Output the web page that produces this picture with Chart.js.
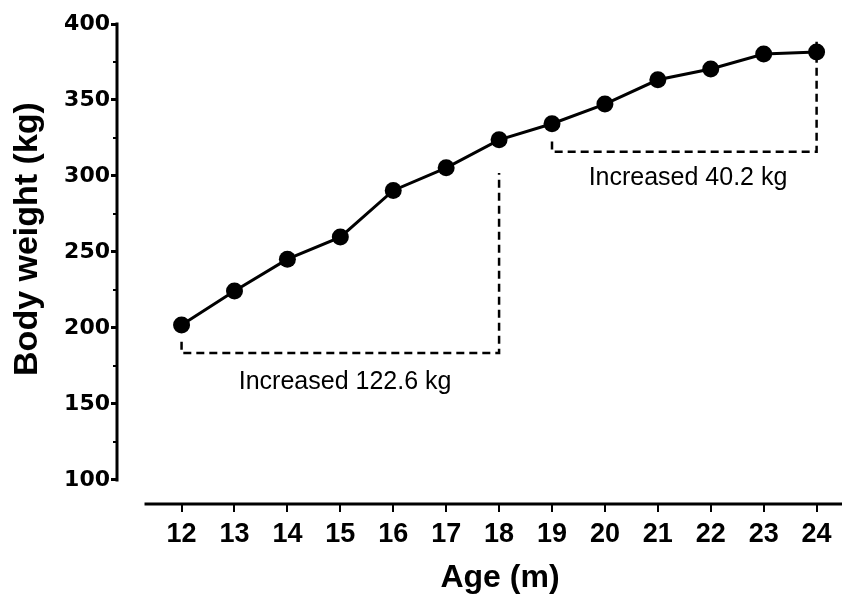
<!DOCTYPE html>
<html>
<head>
<meta charset="utf-8">
<script src="https://cdn.jsdelivr.net/npm/chart.js@4/dist/chart.umd.min.js"></script>
<style>
  html, body { margin: 0; padding: 0; background: #fff; }
  #wrap { width: 842px; height: 597px; }
</style>
</head>
<body>
<div id="wrap"><canvas id="weightChart" width="842" height="597"></canvas></div>
<script>
// age in months and mean body weight (kg)
const ages = [12, 13, 14, 15, 16, 17, 18, 19, 20, 21, 22, 23, 24];
const weights = [202.0, 224.4, 245.3, 259.8, 290.5, 305.4, 323.8, 334.4, 347.3, 363.3, 370.4, 380.2, 381.6];

const yTicks = [100, 150, 200, 250, 300, 350, 400];
const yMinorTicks = [125, 175, 225, 275, 325, 375];

// dashed brackets marking the two gains
const gainA = [[12, 191], [12, 183.6], [18, 183.6], [18, 302]];
const gainB = [[19, 322.7], [19, 315.9], [24, 315.9], [24, 388.5]];

const notes = [
  { text: 'Increased 122.6 kg', x: 15.09, y: 164.5 },
  { text: 'Increased 40.2 kg', x: 21.57, y: 298.8 }
];

const toPoints = arr => arr.map(p => ({ x: p[0], y: p[1] }));

const axisPlugin = {
  id: 'axisPlugin',
  afterDraw(chart) {
    const ctx = chart.ctx;
    const xs = chart.scales.x;
    const ys = chart.scales.y;
    const area = chart.chartArea;
    ctx.save();
    ctx.strokeStyle = '#000';
    ctx.lineCap = 'butt';

    // y spine (only between 100 and 400)
    ctx.lineWidth = 3;
    ctx.beginPath();
    ctx.moveTo(area.left, ys.getPixelForValue(yTicks[0]) + 1.5);
    ctx.lineTo(area.left, ys.getPixelForValue(yTicks[yTicks.length - 1]) - 1.5);
    ctx.stroke();

    // minor y ticks
    ctx.lineWidth = 2;
    yMinorTicks.forEach(v => {
      const py = ys.getPixelForValue(v);
      ctx.beginPath();
      ctx.moveTo(area.left - 4, py);
      ctx.lineTo(area.left, py);
      ctx.stroke();
    });

    // x spine, detached from the y axis
    ctx.lineWidth = 3;
    ctx.beginPath();
    ctx.moveTo(xs.getPixelForValue(11.3), area.bottom);
    ctx.lineTo(area.right, area.bottom);
    ctx.stroke();

    // annotations
    ctx.fillStyle = '#000';
    ctx.font = '25px "Liberation Sans", Arial, sans-serif';
    ctx.textAlign = 'center';
    ctx.textBaseline = 'middle';
    notes.forEach(n => {
      ctx.fillText(n.text, xs.getPixelForValue(n.x), ys.getPixelForValue(n.y));
    });

    // axis titles
    ctx.font = 'bold 32px "Liberation Sans", Arial, sans-serif';
    ctx.fillText('Age (m)', 500, 578);
    ctx.translate(28, 239);
    ctx.rotate(-Math.PI / 2);
    ctx.font = 'bold 34px "Liberation Sans", Arial, sans-serif';
    ctx.fillText('Body weight (kg)', 0, 0);
    ctx.restore();
  }
};

const ctx = document.getElementById('weightChart').getContext('2d');
const weightChart = new Chart(ctx, {
  type: 'line',
  data: {
    datasets: [
      {
        label: 'Body weight',
        data: ages.map((a, i) => ({ x: a, y: weights[i] })),
        borderColor: '#000',
        backgroundColor: '#000',
        borderWidth: 3,
        pointRadius: 8.5,
        pointBorderWidth: 0,
        pointBackgroundColor: '#000',
        tension: 0
      },
      {
        label: 'gain 12-18',
        data: toPoints(gainA),
        borderColor: '#000',
        borderWidth: 2.5,
        borderDash: [8, 5],
        pointRadius: 0,
        tension: 0
      },
      {
        label: 'gain 19-24',
        data: toPoints(gainB),
        borderColor: '#000',
        borderWidth: 2.5,
        borderDash: [8, 5],
        pointRadius: 0,
        tension: 0
      }
    ]
  },
  options: {
    responsive: false,
    animation: false,
    events: [],
    layout: { autoPadding: false, padding: { top: 24, right: 0, left: 0, bottom: 0 } },
    plugins: {
      legend: { display: false },
      tooltip: { enabled: false }
    },
    scales: {
      x: {
        type: 'linear',
        min: 10.78,
        max: 24.48,
        afterBuildTicks: scale => { scale.ticks = ages.map(v => ({ value: v })); },
        afterFit: scale => {
          scale.height = 93;
          scale.paddingLeft = 0;
          scale.paddingRight = 0;
        },
        border: { display: false },
        grid: {
          drawOnChartArea: false,
          drawTicks: true,
          tickLength: 8,
          lineWidth: 2,
          color: '#000'
        },
        ticks: {
          padding: 6,
          color: '#000',
          maxRotation: 0,
          autoSkip: false,
          font: { family: "'Liberation Sans Narrow', 'Liberation Sans', Arial, sans-serif", size: 27, weight: 'bold' }
        }
      },
      y: {
        min: 84.2,
        max: 400,
        afterBuildTicks: scale => { scale.ticks = yTicks.map(v => ({ value: v })); },
        afterFit: scale => {
          scale.width = 117;
          scale.paddingTop = 0;
          scale.paddingBottom = 0;
        },
        border: { display: false },
        grid: {
          drawOnChartArea: false,
          drawTicks: true,
          tickLength: 6,
          lineWidth: 3,
          color: '#000'
        },
        ticks: {
          padding: 1,
          color: '#000',
          font: { family: "'DejaVu Sans', sans-serif", size: 22, weight: 'bold' }
        }
      }
    }
  },
  plugins: [axisPlugin]
});
</script>
</body>
</html>
